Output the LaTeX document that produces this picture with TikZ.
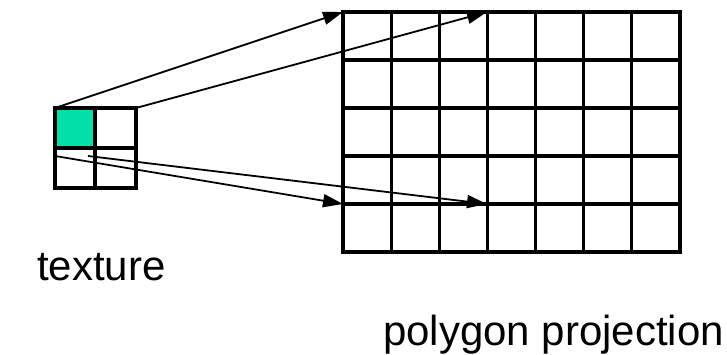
\documentclass[tikz,border=0pt]{standalone}
\usepackage{fontspec}
\setmainfont{Liberation Sans}
\usetikzlibrary{arrows.meta}
\definecolor{mint}{RGB}{0,224,168}
\tikzset{
  gridline/.style={line width=3.2pt, line cap=rect},
  proj/.style={line width=1.8pt, -{Triangle[length=20pt,width=13pt]}},
  label/.style={inner sep=0pt, anchor=base west, font=\fontsize{42}{46}\selectfont}
}
\begin{document}
\begin{tikzpicture}[x=1pt,y=-1pt]
\useasboundingbox (0,0) rectangle (727,355);
% texture
\fill[mint] (55,108) rectangle (95,148);
\draw[gridline] (55,108) rectangle (136,188);
\draw[gridline] (95,108) -- (95,188);
\draw[gridline] (55,148) -- (136,148);
% polygon projection grid
\foreach \i in {0,...,7} {
  \draw[gridline] ({343+48.14*\i},12) -- ({343+48.14*\i},252);
}
\foreach \j in {0,...,5} {
  \draw[gridline] (343,{12+48*\j}) -- (680,{12+48*\j});
}
% named points
\coordinate (t1) at (55,108);
\coordinate (t2) at (136,108);
\coordinate (t3) at (55,156);
\coordinate (t4) at (88,156);
\coordinate (g1) at (343,12);
\coordinate (g2) at (487,12);
\coordinate (g3) at (343,204);
\coordinate (g4) at (487,204);
\draw[proj] (t1) -- (g1);
\draw[proj] (t2) -- (g2);
\draw[proj] (t3) -- (g3);
\draw[proj] (t4) -- (g4);
% labels
\node[label] (tex) at (37,280) {texture};
\node[label] (poly) at (383,345) {polygon projection};
\end{tikzpicture}
\end{document}
